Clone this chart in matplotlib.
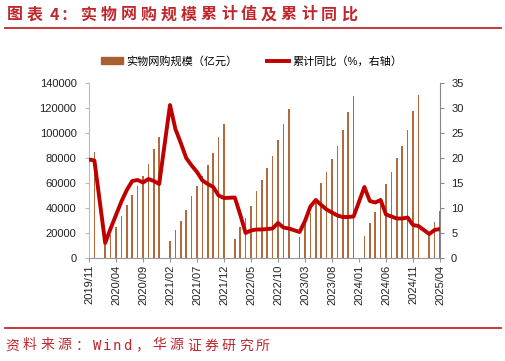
import numpy as np
import matplotlib.pyplot as plt
from matplotlib.patches import Patch
from matplotlib.lines import Line2D

plt.rcParams['font.family'] = ['Liberation Sans', 'Noto Sans CJK SC', 'DejaVu Sans']

nan = np.nan

# 2019/11 .. 2025/04, Jan has no release (Jan-Feb combined)
months = []
for y in range(2019, 2026):
    for m in range(1, 13):
        if (y, m) < (2019, 11) or (y, m) > (2025, 4):
            continue
        months.append('%d/%02d' % (y, m))

# 实物网购规模 累计值 (亿元)
scale = [76900, 85200,
         nan, 13700, 18500, 25000, 33300, 42500, 50400, 57500, 65600, 75000, 87000, 97000,
         nan, 13500, 22400, 29900, 38100, 50000, 57600, 65500, 74400, 83700, 96500, 107600,
         nan, 15200, 24500, 31700, 41600, 53900, 62400, 71700, 81900, 94100, 107500, 119600,
         nan, 16500, 27700, 35700, 47000, 59700, 69100, 78900, 89900, 102400, 116500, 130000,
         nan, 17600, 27700, 37100, 48000, 59200, 69100, 79700, 89900, 102400, 117900, 130400,
         nan, 19000, 29100, 38000]

# 累计同比 (%)
yoy = [19.7, 19.5,
       nan, 3.0, 5.9, 8.6, 11.3, 13.6, 15.4, 15.6, 15.1, 15.8, 15.4, 14.8,
       nan, 30.6, 25.8, 23.0, 20.0, 18.5, 17.2, 15.5, 14.8, 14.2, 12.5, 12.0,
       nan, 12.1, 8.7, 5.0, 5.5, 5.7, 5.7, 5.8, 5.9, 7.0, 6.1, 5.9,
       nan, 5.2, 7.4, 10.3, 11.6, 10.6, 9.7, 9.1, 8.5, 8.2, 8.2, 8.3,
       nan, 14.2, 11.4, 11.1, 11.6, 8.7, 8.3, 7.9, 7.9, 8.1, 6.6, 6.4,
       nan, 4.8, 5.6, 5.8]

x = np.arange(len(months))
scale = np.array(scale)
yoy = np.array(yoy)
ok = ~np.isnan(yoy)

W, H = 506, 361
red = '#C0272D'
bar_c = '#B06A3E'
line_c = '#C00000'

fig = plt.figure(figsize=(W / 100, H / 100), dpi=100)
ax = fig.add_axes([89 / W, 1 - 258 / H, (440 - 89) / W, (258 - 83) / H])
ax2 = ax.twinx()

ax.bar(x, scale, width=0.32, color=bar_c, linewidth=0)
ax2.plot(x[ok], yoy[ok], color=line_c, lw=2.8, solid_joinstyle='round')

ax.set_xlim(0, len(months) - 1)
ax.set_ylim(0, 140000)
ax.set_yticks(range(0, 140001, 20000))
ax2.set_ylim(0, 35)
ax2.set_yticks(range(0, 36, 5))
ax.set_xticks(x[::5])
ax.set_xticklabels(months[::5], rotation=90)

for a in (ax, ax2):
    a.spines['top'].set_visible(False)
ax.spines['right'].set_visible(False)
ax2.spines['left'].set_visible(False)
ax2.spines['bottom'].set_visible(False)
ax.spines['left'].set_color('#BBBBBB')
ax.spines['bottom'].set_color('#999999')
ax2.spines['right'].set_color('#888888')
ax.tick_params(axis='y', length=3, color='#BBBBBB', labelsize=8, pad=6, labelcolor='#222222')
ax.tick_params(axis='x', length=3, color='#999999', labelsize=8, pad=2, labelcolor='#222222')
ax2.tick_params(axis='y', length=3, color='#888888', labelsize=8, pad=5, labelcolor='#222222')

handles = [Patch(color='#A85F34'), Line2D([], [], color=line_c, lw=2.8)]
fig.legend(handles, ['实物网购规模（亿元）', '累计同比（%，右轴）'],
           loc='center', bbox_to_anchor=(0.497, 1 - 61 / H), ncol=2, frameon=False,
           fontsize=8, handlelength=2.0, handleheight=0.55, handletextpad=0.3,
           columnspacing=2.6)


def spaced_text(x0, yc, s, size, adv_full, adv_half, **kw):
    xp = x0
    for ch in s:
        fig.text(xp / W, 1 - yc / H, ch, fontsize=size, va='center', ha='left', color=red, **kw)
        if ch == ' ':
            xp += 3
        elif ord(ch) < 128:
            xp += adv_half
        else:
            xp += adv_full


spaced_text(7, 14.5, '图表 4：实物网购规模累计值及累计同比', 11.5, 20, 11,
            family=['Noto Sans CJK SC'], weight='bold')
fig.add_artist(Line2D([5 / W, 501 / W], [1 - 28.3 / H] * 2, color=red, lw=1.3))
fig.add_artist(Line2D([5 / W, 501 / W], [1 - 327.7 / H] * 2, color=red, lw=1.3))
spaced_text(5, 345.5, '资料来源：', 10, 17.6, 10, family=['Noto Sans CJK SC'])
spaced_text(93, 345.5, 'Wind', 10, 17.6, 10, family=['DejaVu Sans Mono'])
spaced_text(135, 345.5, '，华源证券研究所', 10, 17.3, 10, family=['Noto Sans CJK SC'])

fig.savefig('out.png', dpi=100)
